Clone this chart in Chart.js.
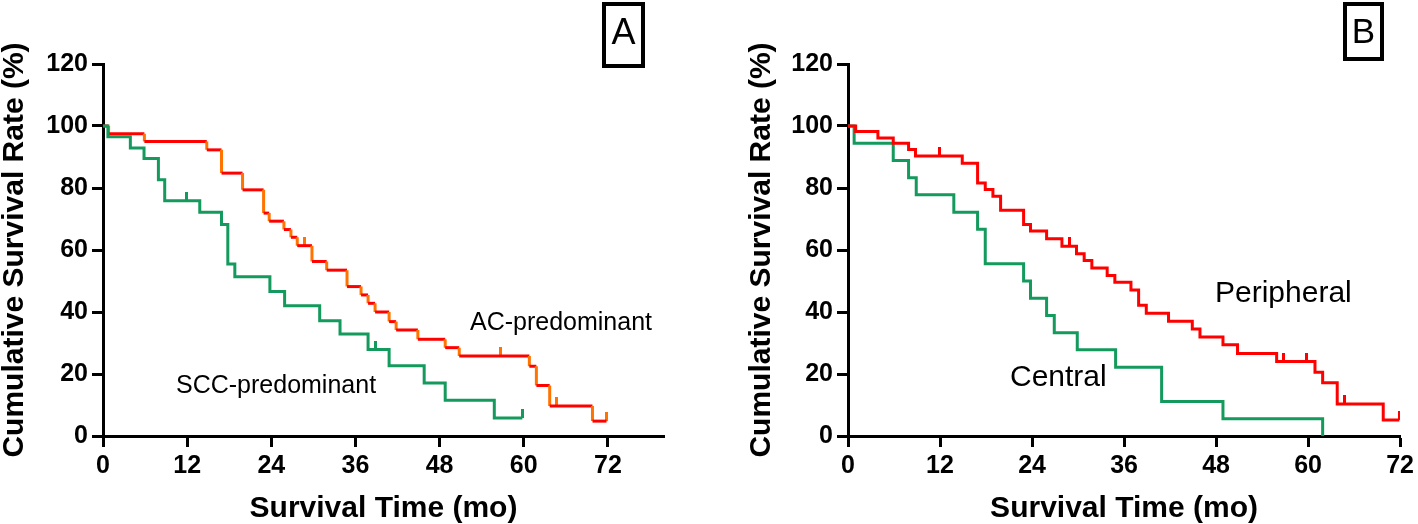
<!DOCTYPE html>
<html>
<head>
<meta charset="utf-8">
<script src="https://cdn.jsdelivr.net/npm/chart.js@4.4.0/dist/chart.umd.min.js"></script>
<style>
  body { margin: 0; background: #fff; }
  #wrap { position: relative; width: 1418px; height: 524px; overflow: hidden; }
  canvas { position: absolute; top: 0; }
</style>
</head>
<body>
<div id="wrap">
  <canvas id="chartA" width="710" height="524" style="left:0"></canvas>
  <canvas id="chartB" width="698" height="524" style="left:720px"></canvas>
</div>
<script>
// tick labels
const xTicks = [0, 12, 24, 36, 48, 60, 72];
const yTicks = [0, 20, 40, 60, 80, 100, 120];

// panel A : AC-predominant (event times in months, survival after each drop)
const acTimes = [0.8, 5.9, 14.8, 16.9, 19.9, 22.9, 23.7, 25.8, 26.8, 27.7, 29.8, 31.9, 34.8, 36.8, 37.8, 38.8, 40.8, 41.8, 44.9, 48.8, 50.8, 60.8, 61.8, 63.7, 69.8];
const acSurv = [97.5, 95.0, 92.3, 84.8, 79.4, 71.9, 69.3, 66.6, 64.1, 61.4, 56.3, 53.5, 48.2, 45.5, 42.8, 40.0, 36.9, 34.2, 31.2, 28.5, 25.8, 22.5, 16.3, 9.7, 4.8];
const acCensor = [28.8, 56.7, 64.7, 71.8];

// panel A : SCC-predominant
const sccTimes = [0.7, 3.9, 5.85, 7.9, 8.8, 13.8, 16.9, 17.8, 18.8, 23.8, 25.9, 30.9, 33.8, 37.8, 40.8, 45.8, 48.8, 55.8];
const sccSurv = [96.5, 92.9, 89.5, 82.7, 75.9, 72.2, 68.2, 55.5, 51.4, 46.6, 42.0, 37.2, 32.9, 27.9, 22.7, 17.1, 11.5, 5.8];
const sccCensor = [11.9, 38.8, 59.8];

// panel B : Peripheral
const periTimes = [1.0, 3.9, 5.9, 7.9, 8.8, 14.9, 16.9, 17.9, 18.9, 19.9, 22.9, 23.8, 25.9, 27.9, 29.8, 30.8, 31.8, 33.8, 34.8, 36.9, 37.9, 38.9, 41.8, 44.9, 45.9, 48.9, 50.8, 55.9, 60.9, 61.9, 63.8, 69.8];
const periSurv = [98.2, 96.1, 94.4, 92.4, 90.3, 88.0, 81.6, 79.5, 77.3, 72.8, 68.2, 66.1, 63.6, 61.2, 58.8, 56.6, 54.2, 51.8, 49.6, 47.1, 42.2, 39.6, 37.0, 34.5, 31.9, 29.4, 26.6, 24.0, 20.6, 17.2, 10.3, 5.2];
const periCensor = [11.9, 28.9, 56.8, 59.8, 64.8, 71.9];

// panel B : Central
const centTimes = [0.8, 5.9, 7.9, 8.9, 13.8, 16.9, 17.9, 22.9, 23.8, 25.9, 26.9, 29.9, 34.9, 40.9, 48.9, 61.9];
const centSurv = [94.4, 88.9, 83.3, 77.8, 72.2, 66.7, 55.6, 50.0, 44.4, 38.9, 33.3, 27.8, 22.2, 11.1, 5.6, 0];
const centCensor = [];

const RED = '#ff0000';
const ORANGE = '#ff7400';
const GREEN = '#139a5c';
const FONT = '"Liberation Sans", Arial, sans-serif';

// step curve as explicit corner points
function kmPoints(times, surv, censor) {
    const pts = [{x: 0, y: 100}];
    let prev = 100;
    times.forEach((t, i) => {
        pts.push({x: t, y: prev});
        pts.push({x: t, y: surv[i]});
        prev = surv[i];
    });
    const last = censor.length ? censor[censor.length - 1] : 0;
    if (last > times[times.length - 1]) pts.push({x: last, y: prev});
    return pts;
}

function levelAt(times, surv, t) {
    let v = 100;
    times.forEach((tt, i) => { if (tt <= t) v = surv[i]; });
    return v;
}

function censorPoints(times, surv, censor) {
    return censor.map(t => ({x: t, y: levelAt(times, surv, t)}));
}

// small upward tick used as censor mark
function tickImg(color) {
    const c = document.createElement('canvas');
    c.width = 3; c.height = 18;
    const g = c.getContext('2d');
    g.fillStyle = color;
    g.fillRect(0, 0, 3, 9);
    return c;
}

// free text + boxed panel letter
const textPlugin = {
    id: 'texts',
    afterDraw(chart, args, opts) {
        const ctx = chart.ctx;
        ctx.save();
        ctx.fillStyle = '#000';
        ctx.textBaseline = 'alphabetic';
        opts.labels.forEach(l => {
            ctx.font = l.size + 'px ' + FONT;
            ctx.textAlign = 'left';
            ctx.fillText(l.text, l.x, l.y);
        });
        const b = opts.box;
        ctx.lineWidth = 4;
        ctx.strokeStyle = '#000';
        ctx.strokeRect(b.x, b.y, b.w, b.h);
        ctx.font = b.size + 'px ' + FONT;
        ctx.textAlign = 'center';
        ctx.fillText(b.text, b.x + b.w / 2, b.base);
        ctx.restore();
    }
};

function lineSet(points, color, vColor) {
    return {
        data: points,
        borderColor: color,
        borderWidth: 3,
        pointRadius: 0,
        fill: false,
        tension: 0,
        segment: {
            borderColor: ctx => ctx.p0.parsed.x === ctx.p1.parsed.x ? vColor : color
        }
    };
}

function censorSet(points, color) {
    return {
        data: points,
        showLine: false,
        pointStyle: tickImg(color),
        pointRadius: 5
    };
}

function makeChart(id, datasets, cfg) {
    return new Chart(document.getElementById(id).getContext('2d'), {
        type: 'line',
        data: { datasets: datasets },
        options: {
            responsive: false,
            animation: false,
            events: [],
            layout: { padding: { top: 64, right: cfg.padRight, left: 0, bottom: 0 } },
            plugins: {
                legend: { display: false },
                tooltip: { enabled: false },
                texts: { labels: cfg.labels, box: cfg.box }
            },
            scales: {
                x: {
                    type: 'linear',
                    min: 0,
                    max: cfg.xMax,
                    afterBuildTicks: s => { s.ticks = xTicks.map(v => ({value: v})); },
                    afterFit: s => { s.height = 88; },
                    grid: { drawOnChartArea: false, drawTicks: true, tickLength: 11, tickWidth: 3, tickColor: '#000' },
                    border: { color: '#000', width: 3 },
                    ticks: { color: '#000', padding: 4, maxRotation: 0, autoSkip: false, font: { family: FONT, size: 25, weight: 'bold' } },
                    title: {
                        display: true,
                        text: 'Survival Time (mo)',
                        color: '#000',
                        padding: 0,
                        font: { family: FONT, size: 30, weight: 'bold', lineHeight: 1 }
                    }
                },
                y: {
                    min: 0,
                    max: 120,
                    afterBuildTicks: s => { s.ticks = yTicks.map(v => ({value: v})); },
                    afterFit: s => { s.width = cfg.yWidth; },
                    grid: { drawOnChartArea: false, drawTicks: true, tickLength: 11, tickWidth: 3, tickColor: '#000' },
                    border: { color: '#000', width: 3 },
                    ticks: { color: '#000', padding: 4, font: { family: FONT, size: 25, weight: 'bold' } },
                    title: {
                        display: true,
                        text: 'Cumulative Survival Rate (%)',
                        color: '#000',
                        padding: { top: cfg.yTitlePad, bottom: 0 },
                        font: { family: FONT, size: 30, weight: 'bold', lineHeight: 1 }
                    }
                }
            }
        },
        plugins: [textPlugin]
    });
}

const chartA = makeChart('chartA', [
    lineSet(kmPoints(sccTimes, sccSurv, sccCensor), GREEN, GREEN),
    censorSet(censorPoints(sccTimes, sccSurv, sccCensor), GREEN),
    lineSet(kmPoints(acTimes, acSurv, acCensor), RED, ORANGE),
    censorSet(censorPoints(acTimes, acSurv, acCensor), ORANGE)
], {
    xMax: 80, padRight: 46, yWidth: 103, yTitlePad: 0,
    labels: [
        { text: 'AC-predominant', x: 470, y: 330, size: 25 },
        { text: 'SCC-predominant', x: 176, y: 393, size: 25 }
    ],
    box: { text: 'A', x: 604, y: 4, w: 39, h: 62, base: 44, size: 36 }
});

const chartB = makeChart('chartB', [
    lineSet(kmPoints(periTimes, periSurv, periCensor), RED, RED),
    censorSet(censorPoints(periTimes, periSurv, periCensor), RED),
    lineSet(kmPoints(centTimes, centSurv, centCensor), GREEN, GREEN)
], {
    xMax: 72, padRight: 13, yWidth: 128, yTitlePad: 27,
    labels: [
        { text: 'Peripheral', x: 495, y: 302, size: 30 },
        { text: 'Central', x: 290, y: 386, size: 30 }
    ],
    box: { text: 'B', x: 625, y: 4, w: 37, h: 55, base: 43, size: 35 }
});
</script>
</body>
</html>
